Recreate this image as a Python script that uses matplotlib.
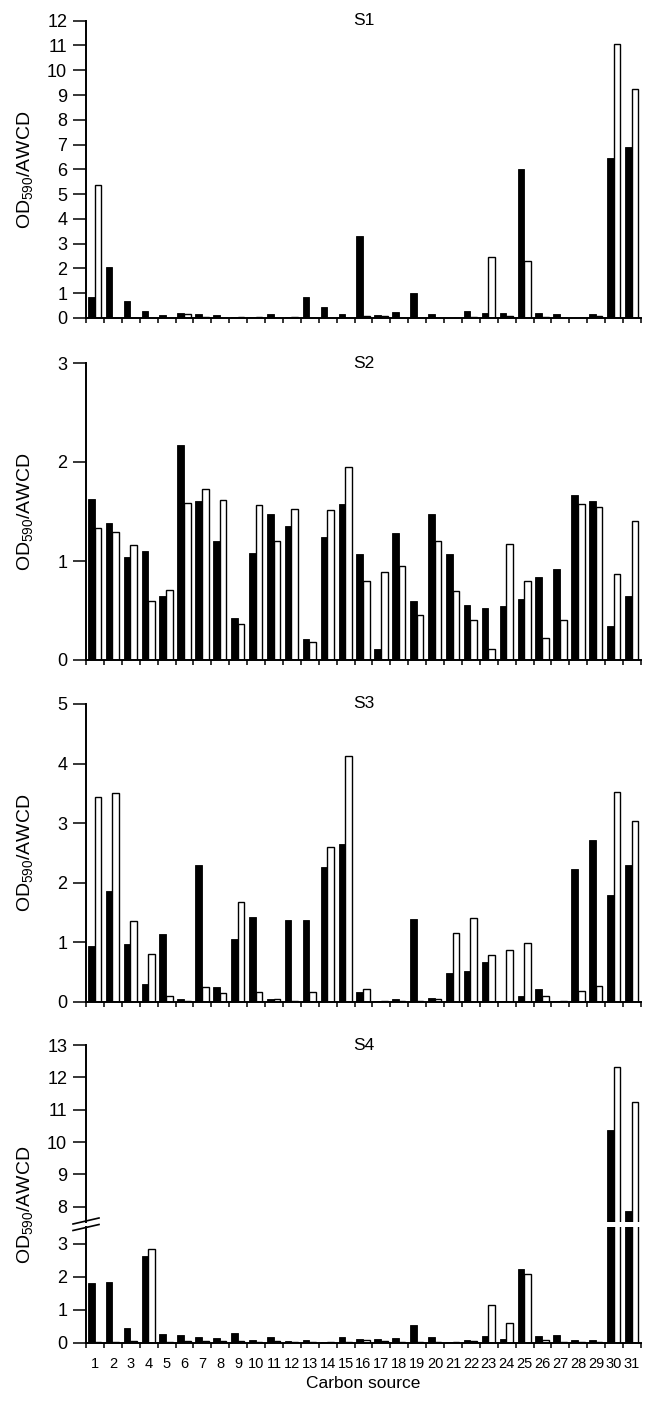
'''
carbon source utilisation (OD590/AWCD) for four sites, S1-S4
'''
import numpy as np
import matplotlib
matplotlib.use('Agg')
import matplotlib.pyplot as plt
from matplotlib.lines import Line2D

plt.rcParams['font.family'] = ['Liberation Sans', 'DejaVu Sans']
plt.rcParams['mathtext.default'] = 'regular'

sources = list(range(1, 32))

s1_black = [0.85, 2.04, 0.70, 0.30, 0.13, 0.20, 0.17, 0.13, 0.04, 0.03, 0.18, 0.05, 0.83, 0.46, 0.17, 3.29,
            0.12, 0.24, 1.00, 0.17, 0.02, 0.27, 0.20, 0.21, 6.00, 0.21, 0.15, 0.02, 0.17, 6.45, 6.91]
s1_white = [5.35, 0.02, 0.02, 0.02, 0.01, 0.16, 0.05, 0.02, 0.03, 0.03, 0.02, 0.03, 0.01, 0.02, 0.02, 0.09,
            0.09, 0.02, 0.02, 0.01, 0.01, 0.03, 2.46, 0.09, 2.31, 0.03, 0.01, 0.01, 0.09, 11.05, 9.23]

s2_black = [1.63, 1.38, 1.04, 1.10, 0.65, 2.17, 1.61, 1.20, 0.42, 1.08, 1.47, 1.35, 0.21, 1.24, 1.58, 1.07,
            0.11, 1.28, 0.60, 1.47, 1.07, 0.56, 0.53, 0.55, 0.62, 0.84, 0.92, 1.67, 1.61, 0.34, 0.65]
s2_white = [1.33, 1.29, 1.16, 0.60, 0.71, 1.59, 1.73, 1.62, 0.36, 1.57, 1.20, 1.53, 0.18, 1.52, 1.95, 0.80,
            0.89, 0.95, 0.45, 1.20, 0.70, 0.40, 0.11, 1.17, 0.80, 0.22, 0.40, 1.58, 1.55, 0.87, 1.40]

s3_black = [0.94, 1.86, 0.97, 0.29, 1.14, 0.04, 2.30, 0.24, 1.05, 1.43, 0.05, 1.38, 1.37, 2.26, 2.65, 0.16,
            0.01, 0.04, 1.39, 0.06, 0.48, 0.52, 0.66, 0.01, 0.10, 0.22, 0.01, 2.23, 2.72, 1.79, 2.30]
s3_white = [3.44, 3.50, 1.35, 0.80, 0.10, 0.02, 0.25, 0.14, 1.67, 0.17, 0.04, 0.01, 0.17, 2.59, 4.13, 0.22,
            0.01, 0.01, 0.01, 0.04, 1.16, 1.41, 0.79, 0.87, 0.98, 0.10, 0.01, 0.18, 0.27, 3.53, 3.03]

s4_black = [1.82, 1.84, 0.43, 2.62, 0.26, 0.22, 0.18, 0.14, 0.29, 0.09, 0.18, 0.04, 0.07, 0.01, 0.18, 0.12,
            0.10, 0.15, 0.55, 0.17, 0.03, 0.09, 0.19, 0.10, 2.23, 0.19, 0.23, 0.09, 0.08, 10.37, 7.87]
s4_white = [0.01, 0.01, 0.05, 2.83, 0.02, 0.04, 0.06, 0.06, 0.04, 0.02, 0.04, 0.02, 0.01, 0.01, 0.01, 0.08,
            0.06, 0.01, 0.03, 0.03, 0.02, 0.04, 1.15, 0.61, 2.09, 0.07, 0.03, 0.01, 0.03, 12.31, 11.24]

YLABEL = 'OD$_{590}$/AWCD'
LEFT, WIDTH = 86 / 654, 555 / 654
FIG_H = 1411


def px_box(top, bottom):
    '''
    axes rect from pixel rows (top, bottom) of the 654x1411 figure
    '''
    return [LEFT, 1 - bottom / FIG_H, WIDTH, (bottom - top) / FIG_H]


def draw_bars(ax, black, white):
    '''
    paired bars per carbon source: filled then open
    '''
    x = np.array(sources)
    ax.bar(x - 0.21, black, width=0.37, color='black', edgecolor='black', linewidth=0.6)
    ax.bar(x + 0.16, white, width=0.37, color='white', edgecolor='black', linewidth=1.0)


def style_axes(ax, ylim, yticks, bottom=True):
    '''
    spines / ticks the way the journal figure has them
    '''
    ax.set_xlim(0.5, 31.5)
    ax.set_ylim(*ylim)
    ax.spines[['top', 'right']].set_visible(False)
    ax.spines['left'].set_linewidth(1.4)
    ax.spines['bottom'].set_linewidth(1.4)
    ax.set_yticks(yticks)
    ax.tick_params(axis='y', direction='out', length=9.5, width=1.1, labelsize=13, pad=4)
    if bottom:
        ax.set_xticks(np.arange(0.5, 32, 1))
        ax.set_xticklabels([])
        ax.tick_params(axis='x', which='major', direction='out', length=3.6, width=1.1)
    else:
        ax.spines['bottom'].set_visible(False)
        ax.set_xticks([])


fig = plt.figure(figsize=(6.54, 14.11), dpi=100)

panels = [
    ('S1', s1_black, s1_white, (20.7, 318), (0, 12), range(0, 13)),
    ('S2', s2_black, s2_white, (363, 660), (0, 3), range(0, 4)),
    ('S3', s3_black, s3_white, (704, 1001.7), (0, 5), range(0, 6)),
]
for name, black, white, rows, ylim, yticks in panels:
    ax = fig.add_axes(px_box(*rows))
    draw_bars(ax, black, white)
    style_axes(ax, ylim, yticks)
    ax.text(0.5, 1.0, name, transform=ax.transAxes, ha='center', va='center', fontsize=12.5)
    fig.text(0.038, 1 - (rows[0] + rows[1]) / 2 / FIG_H, YLABEL, rotation=90,
             ha='center', va='center', fontsize=14)

# S4 has a broken y axis
ax_hi = fig.add_axes(px_box(1045, 1222))
ax_lo = fig.add_axes(px_box(1227, 1342.7))
for ax in (ax_hi, ax_lo):
    draw_bars(ax, s4_black, s4_white)
style_axes(ax_hi, (7.53, 13), range(8, 14), bottom=False)
style_axes(ax_lo, (0, 3.5), range(0, 4))
ax_hi.text(0.5, 1.0, 'S4', transform=ax_hi.transAxes, ha='center', va='center', fontsize=12.5)
ax_lo.set_xticks(sources, [str(s) for s in sources], minor=True)
ax_lo.tick_params(axis='x', which='minor', length=0, labelsize=10.5, pad=10)
fig.text(0.038, 1 - 1205 / FIG_H, YLABEL, rotation=90, ha='center', va='center', fontsize=14)
fig.text(LEFT + WIDTH / 2, 1 - 1384 / FIG_H, 'Carbon source', ha='center', va='center', fontsize=12.5)

# the "//" break marks over the left spine
for dy in (0, 6.5):
    y0 = 1 - (1224 + dy) / FIG_H
    fig.add_artist(Line2D([73 / 654, 99 / 654], [y0, y0 + 6 / FIG_H], color='black', lw=1.2))

fig.savefig('out.png', dpi=100)
plt.close(fig)
